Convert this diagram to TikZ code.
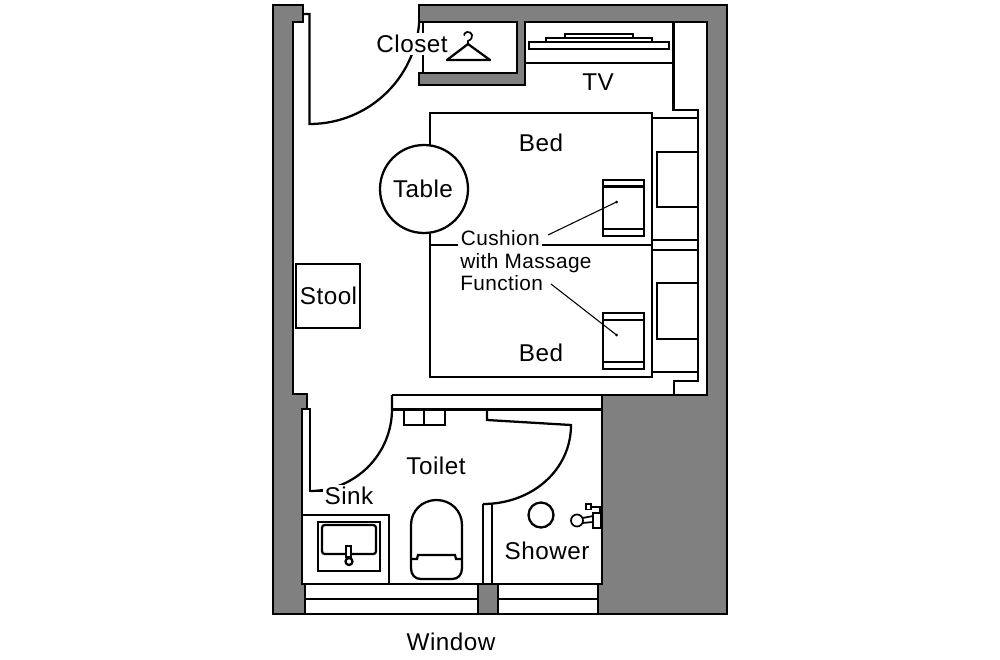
\documentclass[tikz,border=0pt]{standalone}
\usepackage{fontspec}
\setmainfont[LetterSpace=2]{Liberation Sans}
\newcommand{\lblfont}{\fontsize{18.2pt}{20pt}\selectfont}
\newcommand{\smfont}{\fontsize{15.6pt}{17pt}\selectfont}
\definecolor{wallgrey}{HTML}{808080}
\tikzset{
  ln/.style={draw=black,line width=1.7pt,line join=miter},
  wall/.style={ln,fill=wallgrey},
  thin ln/.style={draw=black,line width=0.8pt},
  lbl/.style={font=\lblfont,inner sep=0pt,text=black,anchor=base},
  smlbl/.style={font=\smfont,inner sep=0pt,anchor=base west,text=black},
  mask/.style={fill=white,inner sep=1.5pt},
}
\begin{document}
\begin{tikzpicture}[x=0.75pt,y=-0.75pt]
\useasboundingbox (0,0) rectangle (1000,660);
% doors (under walls)
\draw[ln] (303,14) -- (309.5,14) -- (309.5,124) .. controls (370.25,124) and (419.5,75.25) .. (419.5,14);
\draw[ln] (302,409) -- (310,409) -- (310,491) -- (330,491);
\draw[ln] (392,395) -- (392,409) .. controls (392,454.3) and (355.3,491) .. (310,491);
\draw[ln] (487,409) -- (487,420) -- (571,425) .. controls (571,470) and (532,504) .. (483,504);
% walls
\draw[wall] (273,5) -- (303,5) -- (303,22) -- (293,22) -- (293,394) -- (307,394) -- (307,409) -- (302,409) -- (302,584) -- (305,584) -- (305,614) -- (273,614) -- cycle;
\draw[wall] (419,5) -- (727,5) -- (727,614) -- (598,614) -- (598,584) -- (602,584) -- (602,395) -- (707,395) -- (707,22) -- (525,22) -- (525,85) -- (419,85) -- (419,73) -- (517,73) -- (517,22) -- (419,22) -- cycle;
\draw[ln] (423,22) -- (423,73);
% hanger
\draw[line width=1.7pt,line join=round] (447,60) -- (468,44) -- (490,60) -- cycle;
\draw[line width=1.3pt] (468,44) -- (468,41) .. controls (475,38) and (472,31) .. (467,32) .. controls (465,32.5) and (464,34) .. (464,35.5);
% TV
\draw[ln] (525,63) -- (673.5,63);
\draw[line width=1.5pt] (565,34) rectangle (633,38);
\draw[line width=1.5pt,fill=white] (546,38) rectangle (652,42);
\draw[ln,fill=white] (529,42) rectangle (669,49);
% right side cabinet line and headboard
\draw[ln] (673.5,22) -- (673.5,110) -- (698,110) -- (698,381) -- (674,381) -- (674,395);
\draw[ln] (652,118) -- (698,118);
\draw[ln] (652,240) -- (698,240);
\draw[ln] (652,250) -- (698,250);
\draw[ln] (652,372) -- (698,372);
\draw[ln] (698,152) -- (657,152) -- (657,207) -- (698,207);
\draw[ln] (698,283) -- (657,283) -- (657,339) -- (698,339);
% beds
\draw[ln] (430,113) rectangle (652,377);
\draw[ln] (430,245) -- (652,245);
% cushions
\draw[ln] (603,180) rectangle (644,236);
\draw[ln] (603,186.5) -- (644,186.5);
\draw[ln] (603,229) -- (644,229);
\draw[ln] (603,313) rectangle (644,369);
\draw[ln] (603,320) -- (644,320);
\draw[ln] (603,362) -- (644,362);
% table
\node[ln,circle,fill=white,minimum size=66pt,inner sep=0pt] (table) at (424,189) {};
\node[lbl] (tablelbl) at (423,197.5) {Table};
% stool
\node[ln,minimum width=48pt,minimum height=48pt,inner sep=0pt] (stool) at (328,296) {};
\node[lbl] (stoollbl) at (328.5,304.5) {Stool};
% bath ledge
\draw[ln] (392,395) -- (602,395);
\draw[ln] (392,409.5) -- (602,409.5);
\draw[ln] (404,410) rectangle (424,425);
\draw[ln] (424,410) rectangle (445,425);
% shower partition
\draw[ln] (483,504) -- (483,584);
\draw[ln] (492,504) -- (492,584);
% sink counter and sink
\draw[ln,fill=white] (302,515) rectangle (389,584);
\draw[ln] (318,522) rectangle (380,571);
\draw[ln,rounded corners=2pt] (322,525) rectangle (376,554);
\draw[ln,fill=white] (346,546) rectangle (351,557);
\draw[ln,fill=white] (349,561.5) circle (3.5);
% toilet
\draw[ln] (411,568) -- (411,525) .. controls (411,511) and (422,500) .. (436.5,500) .. controls (451,500) and (462,511) .. (462,525) -- (462,568) .. controls (462,575) and (458,579) .. (452,579) -- (421,579) .. controls (415,579) and (411,575) .. (411,568) -- cycle;
\draw[ln] (411,559) -- (417,559) -- (418,555) -- (455,555) -- (456,559) -- (462,559);
% window
\draw[ln] (305,584) -- (602,584);
\draw[ln] (305,599) -- (598,599);
\draw[ln] (273,614) -- (727,614);
\draw[wall] (478,584) rectangle (498,614);
% shower fixtures
\draw[ln] (541,515) circle (12.5);
\draw[line width=1.3pt] (577,520.5) circle (6);
\draw[line width=1.3pt] (582.5,518) -- (593,516);
\draw[line width=1.3pt] (582.5,523) -- (593,522);
\draw[line width=1.3pt,fill=white] (593,513) rectangle (601,528);
\draw[line width=1.3pt,fill=white] (586,504) rectangle (591,509.5);
\draw[line width=1.3pt] (591,507) -- (600,507) -- (600,513);
% labels
\node[lbl,mask] (closet) at (412,52.5) {Closet};
\node[lbl] (tv) at (598,90.5) {TV};
\node[lbl] (bed1) at (541,151.5) {Bed};
\node[lbl] (bed2) at (541,361.5) {Bed};
\node[smlbl,mask,inner sep=2pt] (cush) at (458,245.5) {Cushion};
\node[smlbl] (mass) at (460,268) {with Massage};
\node[smlbl] (func) at (460,290) {Function};
\node[lbl] (toilet) at (436,474.5) {Toilet};
\node[lbl,mask] (sink) at (349,504.5) {Sink};
\node[lbl] (shower) at (547,559.5) {Shower};
\node[lbl] (window) at (451,650.5) {Window};
% leaders
\coordinate (d1) at (616.5,202);
\coordinate (d2) at (616.5,335);
\coordinate (s1) at (548,235);
\coordinate (s2) at (551,284);
\draw[thin ln] (s1) -- (d1);
\draw[thin ln] (s2) -- (d2);
\fill (d1) circle (1.5);
\fill (d2) circle (1.5);
\end{tikzpicture}
\end{document}
